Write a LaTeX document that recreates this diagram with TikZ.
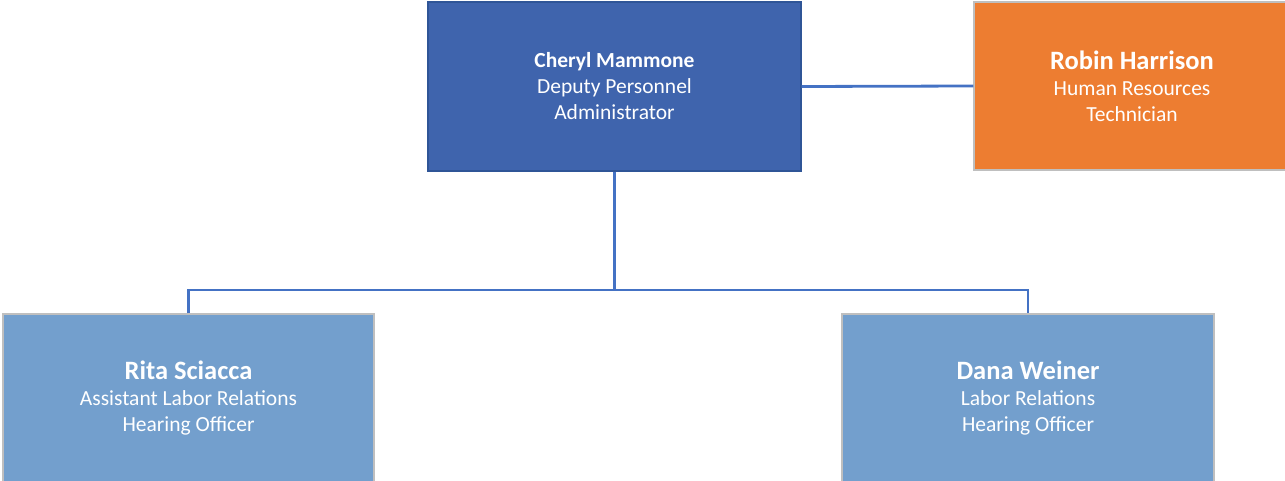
\documentclass[tikz,border=0pt]{standalone}
\usepackage{fontspec}
\setmainfont{Carlito}
\usepackage{xcolor}
\usetikzlibrary{positioning}

\definecolor{chiefblue}{HTML}{3F64AD}
\definecolor{chiefline}{HTML}{2F5597}
\definecolor{staffblue}{HTML}{739FCD}
\definecolor{hrorange}{HTML}{ED7D31}
\definecolor{boxline}{HTML}{BFBFBF}
\definecolor{linkblue}{HTML}{4472C4}

\begin{document}
\begin{tikzpicture}[x=1pt,y=-1pt]
\useasboundingbox (0,0) rectangle (1285,481);
\tikzstyle{every node}=[draw,shape=rectangle,inner sep=0pt,align=center,text=white,line width=1.2pt,
  font=\fontsize{21.5}{26}\selectfont];
\tikzstyle{link}=[draw=linkblue,line width=2.8pt];

\draw node[fill=chiefblue,draw=chiefline,minimum width=373pt,minimum height=169pt] (chief) at (614.5,86.5)
  {\textbf{Cheryl Mammone}\\Deputy Personnel\\Administrator};
\draw node[fill=hrorange,draw=boxline,minimum width=316pt,minimum height=168pt] (hr) at (1132,86)
  {{\fontsize{26.5}{28}\selectfont\textbf{Robin Harrison}}\\Human Resources\\Technician};
\draw node[fill=staffblue,draw=boxline,minimum width=371pt,minimum height=168pt] (rita) at (188.5,398)
  {{\fontsize{26.5}{28}\selectfont\textbf{Rita Sciacca}}\\Assistant Labor Relations\\Hearing Officer};
\draw node[fill=staffblue,draw=boxline,minimum width=372pt,minimum height=168pt] (dana) at (1028,398)
  {{\fontsize{26.5}{28}\selectfont\textbf{Dana Weiner}}\\Labor Relations\\Hearing Officer};

\coordinate (bus) at (614.5,290);
\draw[link] (chief.east) -- (hr.west);
\draw[link] (chief.south) -- (bus);
\draw[link] (rita.north) |- (bus) -| (dana.north);
\end{tikzpicture}
\end{document}
